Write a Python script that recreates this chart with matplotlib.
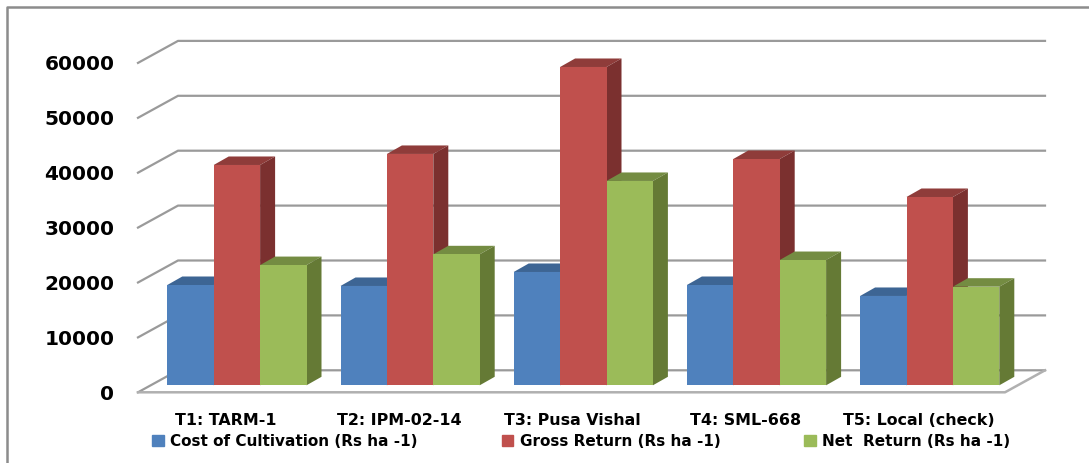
import matplotlib
matplotlib.use('Agg')
import matplotlib.pyplot as plt
from matplotlib.patches import Patch, Polygon

categorias = ['T1: TARM-1', 'T2: IPM-02-14', 'T3: Pusa Vishal', 'T4: SML-668', 'T5: Local (check)']
costo = [18270, 18090, 20640, 18270, 16270]
bruto = [40130, 42140, 57980, 41220, 34300]
neto = [21900, 23860, 37220, 22820, 17960]
marcas_y = [0, 10000, 20000, 30000, 40000, 50000, 60000]

W, H = 1089, 463
PX_X = 173.2       # pixeles por categoria
PX_Y = 54.9 / 10000   # pixeles por unidad

fig = plt.figure(figsize=(W / 100, H / 100), dpi=100, facecolor='white')

# ejes sobre el borde frontal del piso
izq, der, base, techo = 138, 1005, 392.3, 40
ax = fig.add_axes([izq / W, 1 - base / H, (der - izq) / W, (base - techo) / H])
ax.set_xlim((izq - 236.9) / PX_X, (der - 236.9) / PX_X)
ax.set_ylim(0, (base - techo) / PX_Y)
for s in ax.spines.values():
    s.set_visible(False)

# profundidades del piso y de las barras
fondo_x, fondo_y = 40 / PX_X, 22 / PX_Y
plano_y = 7 / PX_Y
barra_x, barra_y = 15 / PX_X, 8.5 / PX_Y
ancho = 46.4 / PX_X
gris = '#9a9a9a'

# rejilla de la pared del fondo
x0, x1 = ax.get_xlim()
for v in marcas_y:
    ax.plot([x0, x0 + fondo_x, x1 + fondo_x], [v, v + fondo_y, v + fondo_y],
            color=gris, lw=1.6, clip_on=False, zorder=1)
# borde frontal y derecho del piso
ax.plot([x0, x1, x1 + fondo_x], [0, 0, fondo_y], color='#b0b0b0', lw=1.8, clip_on=False, zorder=1)

series = [
    (costo, -ancho, '#4f81bd', '#3d6594', '#2f5080'),
    (bruto, 0, '#c0504d', '#8f3c3a', '#7b302f'),
    (neto, ancho, '#9bbb59', '#748c42', '#657a35'),
]
for valores, desp, frente, tapa, lado in series:
    for i, v in enumerate(valores):
        c = i + desp
        xa, xb = c - ancho / 2, c + ancho / 2
        arriba = v + plano_y
        ax.add_patch(Polygon([(xa, arriba), (xb, arriba), (xb + barra_x, arriba + barra_y),
                              (xa + barra_x, arriba + barra_y)], fc=tapa, ec='none',
                             zorder=2 + i * 3, clip_on=False))
        ax.add_patch(Polygon([(xb, plano_y), (xb + barra_x, plano_y + barra_y),
                              (xb + barra_x, arriba + barra_y), (xb, arriba)],
                             fc=lado, ec='none', zorder=2 + i * 3, clip_on=False))
        ax.bar(c, v, width=ancho, bottom=plano_y, color=frente, zorder=2.5 + i * 3 + (desp > 0))

ax.set_yticks(marcas_y)
ax.set_yticklabels([str(v) for v in marcas_y], fontsize=14.5, fontweight='bold', color='#000000')
ax.set_xticks([i - 11 / PX_X for i in range(len(categorias))])
ax.set_xticklabels(categorias, fontsize=11.4, fontweight='bold', color='#000000')
ax.tick_params(axis='both', length=0)
ax.tick_params(axis='y', pad=17)
ax.tick_params(axis='x', pad=15)

# marco exterior del grafico
fig.add_artist(plt.Line2D([7 / W, 7 / W, 1089 / W], [0, 1 - 7 / H, 1 - 7 / H],
                          color='#8c8c8c', lw=1.8))

manijas = [Patch(color='#4f81bd'), Patch(color='#c0504d'), Patch(color='#9bbb59')]
textos = ['Cost of Cultivation (Rs ha -1)', 'Gross Return (Rs ha -1)', 'Net  Return (Rs ha -1)']
fig.legend(manijas, textos, ncol=3, loc='center left', bbox_to_anchor=(152 / W, 1 - 441 / H),
           frameon=False, borderpad=0, borderaxespad=0, handlelength=0.78, handleheight=0.7,
           handletextpad=0.4, columnspacing=5.5,
           prop={'size': 11, 'weight': 'bold'}, labelcolor='#000000')

fig.savefig('out.png', dpi=100)
